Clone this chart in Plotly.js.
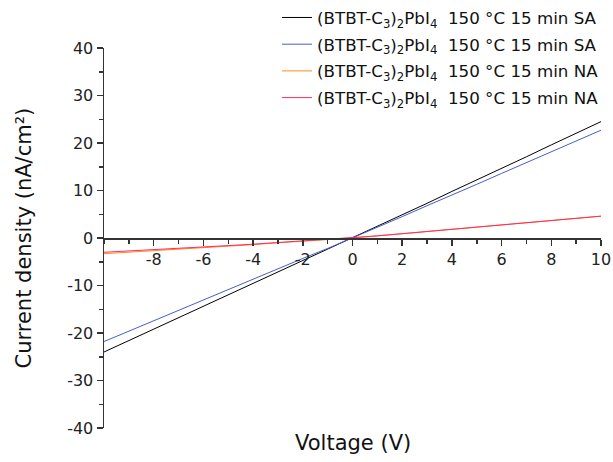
<!DOCTYPE html>
<html>
<head>
<meta charset="utf-8">
<script src="https://cdn.plot.ly/plotly-3.0.1.min.js"></script>
<style>html,body{margin:0;padding:0;background:#fff;}#chart{width:613px;height:462px;}</style>
</head>
<body>
<div id="chart"></div>
<script>
const voltage = [-10,-9,-8,-7,-6,-5,-4,-3,-2,-1,0,1,2,3,4,5,6,7,8,9,10];
const saBlack = [-24.0,-21.6,-19.2,-16.8,-14.4,-12.0,-9.6,-7.2,-4.8,-2.4,0,2.4,4.9,7.3,9.8,12.2,14.7,17.1,19.6,22.0,24.5];
const saBlue  = [-21.8,-19.6,-17.4,-15.2,-13.0,-10.9,-8.7,-6.5,-4.3,-2.2,0,2.2,4.5,6.8,9.0,11.3,13.6,15.9,18.1,20.4,22.7];
const naOrange= [-3.3,-3.0,-2.7,-2.4,-2.1,-1.7,-1.4,-1.0,-0.7,-0.35,0,0.45,0.9,1.35,1.8,2.3,2.75,3.2,3.7,4.15,4.6];
const naPink  = [-3.0,-2.75,-2.5,-2.2,-1.9,-1.6,-1.3,-0.95,-0.65,-0.3,0,0.45,0.9,1.35,1.8,2.3,2.75,3.2,3.7,4.15,4.6];
const names = [
  "(BTBT-C<sub>3</sub>)<sub>2</sub>PbI<sub>4</sub>&nbsp; 150 °C 15 min SA",
  "(BTBT-C<sub>3</sub>)<sub>2</sub>PbI<sub>4</sub>&nbsp; 150 °C 15 min SA",
  "(BTBT-C<sub>3</sub>)<sub>2</sub>PbI<sub>4</sub>&nbsp; 150 °C 15 min NA",
  "(BTBT-C<sub>3</sub>)<sub>2</sub>PbI<sub>4</sub>&nbsp; 150 °C 15 min NA"
];
const colors = ['#000000','#4a5ccc','#ff8c1a','#ff2a62'];
const xTickVals = [-8,-6,-4,-2,0,2,4,6,8,10];
const xTickText = ['-8','-6','-4','-2','0','2','4','6','8','10'];
const yTickVals = [-40,-30,-20,-10,0,10,20,30,40];
const yTickText = ['-40','-30','-20','-10','0','10','20','30','40'];
const series = [saBlack, saBlue, naOrange, naPink];

const traces = series.map((s,i)=>({
  x: voltage, y: s, type:'scatter', mode:'lines', name: names[i], legendgroup:'g'+i,
  line:{color:colors[i], width:1}
}));

const layout = {
  width:613, height:462,
  margin:{l:104, r:12, t:48, b:34, autoexpand:false},
  paper_bgcolor:'#fff', plot_bgcolor:'#fff',
  font:{family:'DejaVu Sans, Verdana, sans-serif', size:16, color:'#222'},
  showlegend:true,
  legend:{x:1.006, xanchor:'right', y:1.126, yanchor:'top', bgcolor:'rgba(0,0,0,0)',
          font:{size:16.7, color:'#111'}, tracegroupgap:2, itemwidth:30},
  xaxis:{range:[-10,10], anchor:'free', position:0.5, showline:true, linecolor:'#333', linewidth:1.5,
         showgrid:false, zeroline:false, tickmode:'array', tickvals:xTickVals, ticktext:xTickText,
         ticks:'outside', ticklen:6, tickcolor:'#333', tickwidth:1.5,
         minor:{dtick:1, tick0:0, ticks:'outside', ticklen:4, tickcolor:'#333', tickwidth:1.5},
         tickfont:{size:16}},
  yaxis:{range:[-40,40], showline:true, linecolor:'#333', linewidth:1.5, showgrid:false, zeroline:false,
         tickmode:'array', tickvals:yTickVals, ticktext:yTickText, ticks:'outside', ticklen:6, tickcolor:'#333', tickwidth:1.5,
         minor:{dtick:5, tick0:0, ticks:'outside', ticklen:4, tickcolor:'#333', tickwidth:1.5},
         tickfont:{size:16}},
  annotations:[
    {text:'Voltage (V)', xref:'paper', yref:'paper', x:0.5, y:-0.04, xanchor:'center', yanchor:'middle',
     showarrow:false, font:{size:21, color:'#111'}},
    {text:'Current density (nA/cm²)', xref:'paper', yref:'paper', x:-0.16, y:0.5, textangle:-90,
     xanchor:'center', yanchor:'middle', showarrow:false, font:{size:21, color:'#111'}}
  ]
};
Plotly.newPlot('chart', traces, layout, {displayModeBar:false, staticPlot:true});
</script>
</body>
</html>
